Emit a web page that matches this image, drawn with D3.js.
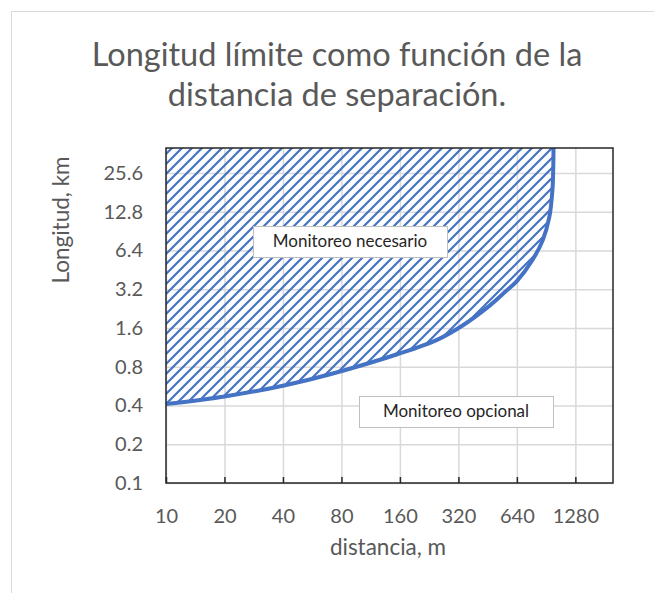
<!DOCTYPE html>
<html>
<head>
<meta charset="utf-8">
<script src="https://cdn.jsdelivr.net/npm/d3@7"></script>
<style>
  html, body { margin: 0; padding: 0; background: #fff; }
  text { font-family: Lato, "Open Sans", sans-serif; }
</style>
</head>
<body>
<svg id="chart"></svg>
<script>
// ---------------------------------------------------------------------------
// Data
// ---------------------------------------------------------------------------
const titleLines = ["Longitud límite como función de la", "distancia de separación."];
const xTicks = [10, 20, 40, 80, 160, 320, 640, 1280];
const yTicks = [0.1, 0.2, 0.4, 0.8, 1.6, 3.2, 6.4, 12.8, 25.6];
const distance = [10, 20, 40, 70, 155, 250, 338, 450, 550, 640, 770, 870, 940, 975, 985, 988];
const lengthKm = [0.41, 0.47, 0.57, 0.70, 1.0, 1.3, 1.68, 2.3, 3.0, 3.7, 5.4, 7.7, 11.6, 18.7, 28, 40];
const xDomain = [10, 2000];
const yDomain = [0.1, 40];

// ---------------------------------------------------------------------------
// Layout
// ---------------------------------------------------------------------------
const W = 654, H = 593;
const plot = { left: 166, right: 613, top: 148, bottom: 483 };
const BLUE = "#4472C4";
const GRID = "#d9d9d9";
const TEXT = "#595959";

const svg = d3.select("#chart").attr("width", W).attr("height", H);

// chart frame
svg.append("rect")
  .attr("x", 11.5).attr("y", 11.5)
  .attr("width", W).attr("height", H)
  .attr("fill", "#fff").attr("stroke", GRID).attr("stroke-width", 1);

const x = d3.scaleLog().base(2).domain(xDomain).range([plot.left, plot.right]);
const y = d3.scaleLog().base(2).domain(yDomain).range([plot.bottom, plot.top]);

// hatch pattern
const pat = svg.append("defs").append("pattern")
  .attr("id", "hatch")
  .attr("patternUnits", "userSpaceOnUse")
  .attr("width", 10).attr("height", 10);
pat.append("path")
  .attr("d", "M-2,2 L2,-2 M0,10 L10,0 M8,12 L12,8")
  .attr("stroke", BLUE).attr("stroke-width", 2.2);

// grid
svg.append("g")
  .attr("transform", `translate(0,${plot.bottom})`)
  .call(d3.axisBottom(x).tickValues(xTicks).tickSize(-(plot.bottom - plot.top)).tickFormat(""))
  .call(g => g.select(".domain").remove())
  .call(g => g.selectAll("line").attr("stroke", GRID).attr("stroke-width", 1.5));
svg.append("g")
  .attr("transform", `translate(${plot.left},0)`)
  .call(d3.axisLeft(y).tickValues(yTicks).tickSize(-(plot.right - plot.left)).tickFormat(""))
  .call(g => g.select(".domain").remove())
  .call(g => g.selectAll("line").attr("stroke", GRID).attr("stroke-width", 1.5));

// hatched region and boundary curve
const pts = distance.map((d, i) => [d, lengthKm[i]]);
const curve = d3.curveCatmullRom.alpha(0.5);
svg.append("path")
  .datum(pts)
  .attr("fill", "url(#hatch)")
  .attr("d", d3.area()
    .x(d => x(d[0]))
    .y0(plot.top)
    .y1(d => y(d[1]))
    .curve(curve));

svg.append("path")
  .datum(pts)
  .attr("fill", "none")
  .attr("stroke", BLUE)
  .attr("stroke-width", 4)
  .attr("d", d3.line()
    .x(d => x(d[0]))
    .y(d => y(d[1]))
    .curve(curve));

// plot border
svg.append("rect")
  .attr("x", plot.left).attr("y", plot.top)
  .attr("width", plot.right - plot.left).attr("height", plot.bottom - plot.top)
  .attr("fill", "none").attr("stroke", "#262626").attr("stroke-width", 1.5);

// x axis ticks (inside) and labels
svg.append("g")
  .attr("transform", `translate(0,${plot.bottom})`)
  .call(d3.axisBottom(x).tickValues(xTicks).tickSize(-6).tickPadding(26).tickFormat(d3.format("d")))
  .call(g => g.select(".domain").remove())
  .call(g => g.selectAll("line").attr("stroke", "#262626").attr("stroke-width", 1.5))
  .call(g => g.selectAll("text").attr("fill", TEXT).attr("font-size", 20)
    .style("font-family", "Lato, sans-serif"));

// y axis labels
svg.append("g")
  .attr("transform", `translate(${plot.left},0)`)
  .call(d3.axisLeft(y).tickValues(yTicks).tickSize(0).tickPadding(23).tickFormat(d => String(d)))
  .call(g => g.select(".domain").remove())
  .call(g => g.selectAll("text").attr("fill", TEXT).attr("font-size", 20)
    .style("font-family", "Lato, sans-serif"));

// title
svg.append("text")
  .attr("x", 337).attr("y", 66)
  .attr("text-anchor", "middle")
  .attr("fill", TEXT).attr("font-size", 32.5)
  .selectAll("tspan").data(titleLines).join("tspan")
  .attr("x", 337).attr("dy", (d, i) => i ? 40 : 0)
  .text(d => d);

// axis titles
svg.append("text")
  .attr("x", 388).attr("y", 555)
  .attr("text-anchor", "middle")
  .attr("fill", TEXT).attr("font-size", 22.5)
  .text("distancia, m");
svg.append("text")
  .attr("transform", "translate(69,220) rotate(-90)")
  .attr("text-anchor", "middle")
  .attr("fill", TEXT).attr("font-size", 22.5)
  .text("Longitud, km");

// annotation boxes
const notes = [
  { text: "Monitoreo necesario", x: 253, y: 226, w: 194, h: 31 },
  { text: "Monitoreo opcional", x: 359, y: 396, w: 194, h: 31 }
];
notes.forEach(n => {
  svg.append("rect")
    .attr("x", n.x + 0.5).attr("y", n.y + 0.5)
    .attr("width", n.w).attr("height", n.h)
    .attr("fill", "#fff").attr("stroke", "#bfbfbf");
  svg.append("text")
    .attr("x", n.x + n.w / 2).attr("y", n.y + n.h / 2 + 5.5)
    .attr("text-anchor", "middle")
    .attr("fill", "#262626").attr("font-size", 17)
    .text(n.text);
});
</script>
</body>
</html>
